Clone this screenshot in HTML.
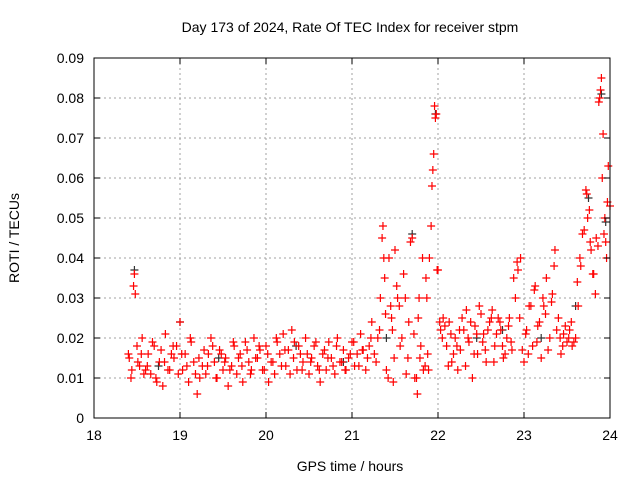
<!DOCTYPE html>
<html><head><meta charset="utf-8"><style>
body{margin:0;background:#fff;}
svg text{font-family:"Liberation Sans",sans-serif;font-size:14px;fill:#000;}
</style></head><body>
<svg id="chart" width="640" height="480" xmlns="http://www.w3.org/2000/svg">
<rect width="640" height="480" fill="#fff"/>
<text x="350" y="32" text-anchor="middle">Day 173 of 2024, Rate Of TEC Index for receiver stpm</text>
<text x="350" y="471" text-anchor="middle">GPS time / hours</text>
<text transform="translate(19,238) rotate(-90)" text-anchor="middle">ROTI / TECUs</text>
<g id="grid"></g>
<g id="marks"></g>
<rect x="94" y="58" width="516" height="360" fill="none" stroke="#000" stroke-width="1"/>
<g id="ticks"></g>
</svg>
<script>
const xTicks=[18,19,20,21,22,23,24];
const yTicks=[0,0.01,0.02,0.03,0.04,0.05,0.06,0.07,0.08,0.09];
const yTickLabels=["0","0.01","0.02","0.03","0.04","0.05","0.06","0.07","0.08","0.09"];
const times=[18.40,18.43,18.46,18.48,18.50,18.53,18.56,18.60,18.63,18.66,18.70,18.73,18.76,18.80,18.83,18.86,18.90,18.93,18.96,19.00,19.03,19.06,19.10,19.13,19.16,19.20,19.23,19.26,19.30,19.33,19.36,19.40,19.43,19.46,19.50,19.53,19.56,19.60,19.63,19.66,19.70,19.73,19.76,19.80,19.83,19.86,19.90,19.93,19.96,20.00,20.03,20.06,20.10,20.13,20.16,20.20,20.23,20.26,20.30,20.33,20.36,20.40,20.43,20.46,20.50,20.53,20.56,20.60,20.63,20.66,20.70,20.73,20.76,20.80,20.83,20.86,20.90,20.93,20.96,21.00,21.03,21.06,21.10,21.13,21.16,21.20,21.23,21.26,21.30,21.33,21.36,21.38,21.40,21.43,21.46,21.48,21.50,21.53,21.56,21.60,21.63,21.66,21.70,21.73,21.76,21.78,21.80,21.83,21.86,21.88,21.90,21.93,21.95,21.96,21.98,22.00,22.03,22.06,22.10,22.13,22.16,22.20,22.23,22.26,22.30,22.33,22.36,22.40,22.43,22.46,22.50,22.53,22.56,22.60,22.63,22.66,22.70,22.73,22.76,22.80,22.83,22.86,22.90,22.93,22.96,23.00,23.03,23.06,23.10,23.13,23.16,23.20,23.23,23.26,23.30,23.33,23.36,23.40,23.43,23.46,23.50,23.53,23.56,23.60,23.63,23.66,23.70,23.73,23.76,23.78,23.80,23.83,23.86,23.88,23.90,23.92,23.94,23.96,23.98,24.00];
const roti=[.016,.010,.033,.031,.018,.013,.020,.012,.016,.011,.018,.009,.014,.008,.021,.012,.016,.015,.018,.024,.012,.016,.009,.019,.014,.006,.010,.013,.011,.016,.020,.014,.010,.017,.012,.015,.008,.013,.018,.011,.016,.009,.019,.014,.012,.020,.015,.017,.012,.018,.009,.014,.011,.019,.016,.021,.013,.017,.022,.019,.012,.016,.014,.020,.011,.015,.018,.013,.009,.016,.012,.019,.015,.011,.020,.014,.017,.012,.015,.019,.013,.016,.021,.017,.012,.018,.024,.016,.020,.030,.048,.035,.012,.040,.025,.009,.042,.030,.018,.036,.011,.024,.045,.010,.006,.030,.018,.012,.035,.016,.040,.058,.066,.078,.076,.037,.022,.025,.018,.024,.014,.020,.012,.017,.022,.027,.019,.010,.023,.016,.026,.021,.014,.024,.027,.018,.025,.022,.015,.020,.025,.017,.030,.037,.040,.014,.022,.028,.018,.033,.023,.015,.028,.035,.020,.031,.042,.025,.016,.021,.019,.022,.018,.020,.028,.038,.047,.056,.052,.042,.036,.031,.043,.080,.085,.071,.050,.040,.063,.053];
const times2=[18.41,18.44,18.47,18.51,18.55,18.58,18.62,18.68,18.72,18.78,18.82,18.88,18.92,18.98,19.02,19.08,19.12,19.18,19.22,19.28,19.32,19.38,19.42,19.48,19.52,19.58,19.62,19.68,19.72,19.78,19.82,19.88,19.92,19.98,20.02,20.08,20.12,20.18,20.22,20.28,20.32,20.38,20.42,20.48,20.52,20.58,20.62,20.68,20.72,20.78,20.82,20.88,20.92,20.98,21.02,21.08,21.12,21.18,21.22,21.28,21.32,21.35,21.37,21.39,21.42,21.45,21.47,21.49,21.52,21.55,21.58,21.62,21.65,21.68,21.72,21.75,21.77,21.79,21.82,21.85,21.87,21.89,21.92,21.94,21.97,21.99,22.02,22.05,22.08,22.12,22.15,22.18,22.22,22.25,22.28,22.32,22.35,22.38,22.42,22.45,22.48,22.52,22.55,22.58,22.62,22.65,22.68,22.72,22.75,22.78,22.82,22.85,22.88,22.92,22.95,22.98,23.02,23.05,23.08,23.12,23.15,23.18,23.22,23.25,23.28,23.32,23.35,23.38,23.42,23.45,23.48,23.52,23.55,23.58,23.62,23.65,23.68,23.72,23.74,23.77,23.81,23.84,23.87,23.89,23.91,23.93,23.95,23.97];
const roti2=[.015,.012,.036,.014,.016,.011,.013,.019,.010,.017,.014,.012,.018,.011,.016,.013,.020,.011,.015,.017,.013,.018,.010,.016,.014,.012,.019,.015,.013,.017,.011,.015,.018,.012,.016,.014,.020,.013,.017,.011,.015,.018,.012,.016,.014,.019,.012,.017,.015,.013,.018,.014,.012,.016,.019,.013,.017,.015,.020,.014,.022,.045,.040,.026,.010,.028,.022,.015,.033,.028,.020,.030,.015,.044,.021,.010,.025,.015,.040,.013,.030,.012,.048,.062,.075,.037,.024,.020,.023,.013,.021,.016,.018,.022,.025,.013,.020,.024,.016,.021,.028,.019,.017,.022,.025,.014,.021,.024,.018,.016,.023,.019,.035,.039,.025,.017,.021,.016,.028,.032,.019,.024,.030,.026,.017,.029,.038,.022,.020,.018,.023,.020,.024,.019,.034,.040,.046,.057,.050,.044,.036,.045,.079,.082,.060,.046,.044,.054];
const blackTimes=[18.47,18.75,19.00,19.45,20.35,20.90,21.40,21.70,21.97,22.45,22.75,23.20,23.60,23.75,23.90,23.95];
const blackVals=[.037,.013,.024,.015,.018,.014,.020,.046,.076,.020,.022,.020,.028,.055,.081,.049];
const X0=94,X1=610,Y0=418,Y1=58;
const xs=t=>X0+(t-18)/6*(X1-X0);
const ys=v=>Y0-v/0.09*(Y0-Y1);
const NS="http://www.w3.org/2000/svg";
const grid=document.getElementById('grid'),ticks=document.getElementById('ticks'),marks=document.getElementById('marks');
function ln(p,x1,y1,x2,y2,st,dash){const l=document.createElementNS(NS,'line');l.setAttribute('x1',x1);l.setAttribute('y1',y1);l.setAttribute('x2',x2);l.setAttribute('y2',y2);l.setAttribute('stroke',st);if(dash)l.setAttribute('stroke-dasharray',dash);p.appendChild(l);return l;}
xTicks.forEach(t=>{const x=xs(t);
 if(t>18&&t<24){const g=ln(grid,x,Y1,x,Y0,'#a0a0a0','2,3');}
 ln(ticks,x,Y0,x,Y0-6,'#000');ln(ticks,x,Y1,x,Y1+6,'#000');
 const tx=document.createElementNS(NS,'text');tx.setAttribute('x',x);tx.setAttribute('y',Y0+22);tx.setAttribute('text-anchor','middle');tx.textContent=t;
 
 
 ticks.appendChild(tx);});
yTicks.forEach((v,i)=>{const y=ys(v);
 if(i>0&&i<yTicks.length-1){const g=ln(grid,X0,y,X1,y,'#a0a0a0','2,3');}
 ln(ticks,X0,y,X0+6,y,'#000');ln(ticks,X1,y,X1-6,y,'#000');
 const tx=document.createElementNS(NS,'text');tx.setAttribute('x',X0-10);tx.setAttribute('y',y+5);tx.setAttribute('text-anchor','end');tx.textContent=yTickLabels[i];
 
 
 ticks.appendChild(tx);});
function plus(x,y,c){const p=document.createElementNS(NS,'path');p.setAttribute('d',`M${x-4},${y}h8M${x},${y-4}v8`);p.setAttribute('stroke',c);p.setAttribute('stroke-width','1.2');p.setAttribute('fill','none');
 
 
 marks.appendChild(p);}
blackTimes.forEach((t,i)=>plus(xs(t),ys(blackVals[i]),'#333'));
times2.forEach((t,i)=>{if(roti2[i]!==undefined)plus(xs(t),ys(roti2[i]),'#ff0000');});
times.forEach((t,i)=>plus(xs(t),ys(roti[i]),'#ff0000'));
</script>
</body></html>
